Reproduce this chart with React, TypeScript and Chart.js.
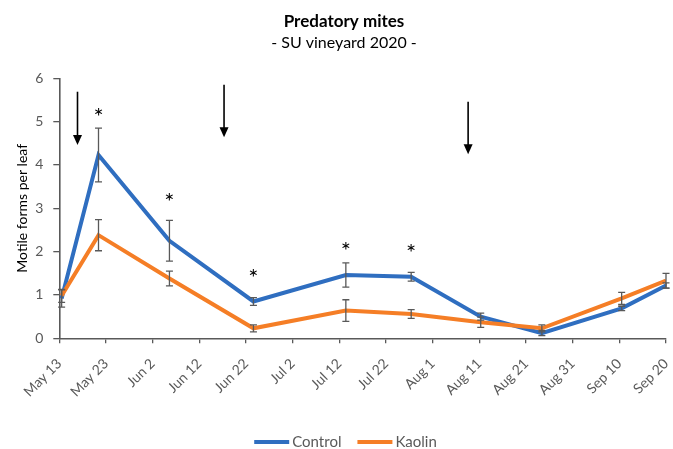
import React, { useEffect, useRef } from 'react';
import { Chart, registerables } from 'chart.js';

Chart.register(...registerables);

// ---- data (days since May 13) ----
const tickLabels = ['May 13', 'May 23', 'Jun 2', 'Jun 12', 'Jun 22', 'Jul 2', 'Jul 12', 'Jul 22', 'Aug 1', 'Aug 11', 'Aug 21', 'Aug 31', 'Sep 10', 'Sep 20'];
const sampleDays = [0.5, 8.4, 23.6, 41.6, 61.4, 75.4, 90.3, 103.4, 120.5, 130];
const control = [0.92, 4.23, 2.25, 0.85, 1.46, 1.42, 0.5, 0.12, 0.69, 1.22];
const controlErr = [0.2, 0.62, 0.47, 0.09, 0.28, 0.1, 0.08, 0.06, 0.05, 0.06];
const kaolin = [0.98, 2.38, 1.38, 0.23, 0.64, 0.56, 0.37, 0.23, 0.92, 1.33];
const kaolinErr = [0.15, 0.36, 0.17, 0.08, 0.25, 0.1, 0.12, 0.08, 0.14, 0.17];
const starDays = [8.4, 23.6, 41.6, 61.4, 75.4];
const starValues = [5.25, 3.27, 1.52, 2.15, 2.1];
const arrowDays = [3.9, 35.3, 87.6];
const arrowTops = [5.69, 5.85, 5.46];
const arrowTips = [4.46, 4.64, 4.25];

const BLUE = '#2F6EC0';
const ORANGE = '#F57E26';
const AXIS = '#595959';
const FONT = 'Lato';

const overlayPlugin = {
  id: 'overlay',
  afterDatasetsDraw(chart: any) {
    const { ctx } = chart;
    const x = chart.scales.x;
    const y = chart.scales.y;
    ctx.save();
    // error bars
    chart.data.datasets.forEach((ds: any) => {
      const errs: number[] = ds.errors;
      if (!errs) return;
      ctx.strokeStyle = AXIS;
      ctx.lineWidth = 1.3;
      ds.data.forEach((pt: any, i: number) => {
        const px = x.getPixelForValue(pt.x);
        const top = y.getPixelForValue(pt.y + errs[i]);
        const bot = y.getPixelForValue(Math.max(0, pt.y - errs[i]));
        ctx.beginPath();
        ctx.moveTo(px, top);
        ctx.lineTo(px, bot);
        ctx.moveTo(px - 3.5, top);
        ctx.lineTo(px + 3.5, top);
        ctx.moveTo(px - 3.5, bot);
        ctx.lineTo(px + 3.5, bot);
        ctx.stroke();
      });
    });
    // significance stars
    ctx.fillStyle = '#000';
    ctx.font = `24px ${FONT}`;
    ctx.textAlign = 'center';
    ctx.textBaseline = 'middle';
    starDays.forEach((d, i) => {
      ctx.fillText('*', x.getPixelForValue(d), y.getPixelForValue(starValues[i]) + 6);
    });
    // arrows
    ctx.strokeStyle = '#000';
    ctx.lineWidth = 1.6;
    arrowDays.forEach((d, i) => {
      const px = x.getPixelForValue(d);
      const t = y.getPixelForValue(arrowTops[i]);
      const b = y.getPixelForValue(arrowTips[i]);
      ctx.beginPath();
      ctx.moveTo(px, t);
      ctx.lineTo(px, b - 8);
      ctx.stroke();
      ctx.beginPath();
      ctx.moveTo(px - 4.5, b - 10);
      ctx.lineTo(px + 4.5, b - 10);
      ctx.lineTo(px, b);
      ctx.closePath();
      ctx.fill();
    });
    ctx.restore();
  },
  afterDraw(chart: any) {
    const { ctx } = chart;
    ctx.save();
    ctx.font = `15px ${FONT}`;
    ctx.textBaseline = 'middle';
    ctx.textAlign = 'left';
    const lineLen = 35;
    const gap = 3;
    const itemGap = 16;
    const items = chart.data.datasets.slice().sort((a: any, b: any) => a.legendIndex - b.legendIndex);
    const widths = items.map((ds: any) => lineLen + gap + ctx.measureText(ds.label).width);
    const total = widths.reduce((a: number, b: number) => a + b, 0) + itemGap * (items.length - 1);
    let cx = 345.5 - total / 2;
    const cy = 442;
    items.forEach((ds: any, i: number) => {
      ctx.strokeStyle = ds.borderColor;
      ctx.lineWidth = 4;
      ctx.beginPath();
      ctx.moveTo(cx, cy);
      ctx.lineTo(cx + lineLen, cy);
      ctx.stroke();
      ctx.fillStyle = AXIS;
      ctx.fillText(ds.label, cx + lineLen + gap, cy);
      cx += widths[i] + itemGap;
    });
    ctx.restore();
  },
};

export default function App() {
  const ref = useRef<HTMLCanvasElement>(null);
  useEffect(() => {
    document.body.style.margin = '0';
    const canvas = ref.current;
    if (!canvas) return;
    const chart = new Chart(canvas, {
      type: 'line',
      data: {
        datasets: [
          {
            label: 'Control',
            data: sampleDays.map((d, i) => ({ x: d, y: control[i] })),
            borderColor: BLUE,
            backgroundColor: BLUE,
            borderWidth: 4,
            pointRadius: 0,
            tension: 0,
            order: 1,
            errors: controlErr,
            legendIndex: 0,
          } as any,
          {
            label: 'Kaolin',
            data: sampleDays.map((d, i) => ({ x: d, y: kaolin[i] })),
            borderColor: ORANGE,
            backgroundColor: ORANGE,
            borderWidth: 4,
            pointRadius: 0,
            tension: 0,
            order: 0,
            errors: kaolinErr,
            legendIndex: 1,
          } as any,
        ],
      },
      options: {
        animation: false,
        responsive: false,
        devicePixelRatio: 1,
        layout: { padding: { left: 15, right: 0, top: 0, bottom: 40.7 } },
        font: { family: FONT },
        plugins: {
          legend: { display: false },
          tooltip: { enabled: false },
          title: {
            display: true,
            text: 'Predatory mites',
            color: '#000',
            font: { family: FONT, size: 17, weight: 'bold' },
            padding: { top: 11.3, bottom: 0 },
          },
          subtitle: {
            display: true,
            text: '- SU vineyard 2020 -',
            color: '#000',
            font: { family: FONT, size: 16 },
            padding: { top: 1.2, bottom: 26.2 },
          },
        },
        scales: {
          x: {
            type: 'linear',
            min: 0,
            max: 130,
            afterFit: (s: any) => {
              s.height = 70;
              s.paddingLeft = 0;
              s.paddingRight = 0;
            },
            ticks: {
              stepSize: 10,
              autoSkip: false,
              maxRotation: 45,
              minRotation: 45,
              color: AXIS,
              font: { family: FONT, size: 14 },
              padding: 12,
              callback: (v: any) => tickLabels[Math.round(Number(v) / 10)] ?? '',
            },
            grid: { drawOnChartArea: false, drawTicks: true, tickLength: 5, color: AXIS, lineWidth: 1.3 },
            border: { display: true, color: AXIS, width: 1.6 },
          },
          y: {
            type: 'linear',
            min: 0,
            max: 6,
            afterFit: (s: any) => { s.width = 44.3; },
            ticks: {
              stepSize: 1,
              color: AXIS,
              font: { family: FONT, size: 14 },
              padding: 10,
            },
            title: {
              display: true,
              text: 'Motile forms per leaf',
              color: '#000',
              font: { family: FONT, size: 14, lineHeight: 1 },
              padding: { top: 0, bottom: 0 },
            },
            grid: { drawOnChartArea: false, drawTicks: true, tickLength: 6, color: AXIS, lineWidth: 1.3 },
            border: { display: true, color: AXIS, width: 1.6 },
          },
          yPad: {
            type: 'linear',
            position: 'right',
            display: true,
            afterFit: (s: any) => { s.width = 7; },
            ticks: { display: false },
            grid: { display: false, drawTicks: false },
            border: { display: false },
          },
        },
      } as any,
      plugins: [overlayPlugin],
    });
    return () => chart.destroy();
  }, []);
  return (
    <div style={{ width: 673, height: 449 }}>
      <canvas ref={ref} width={673} height={449} style={{ display: 'block' }} />
    </div>
  );
}
